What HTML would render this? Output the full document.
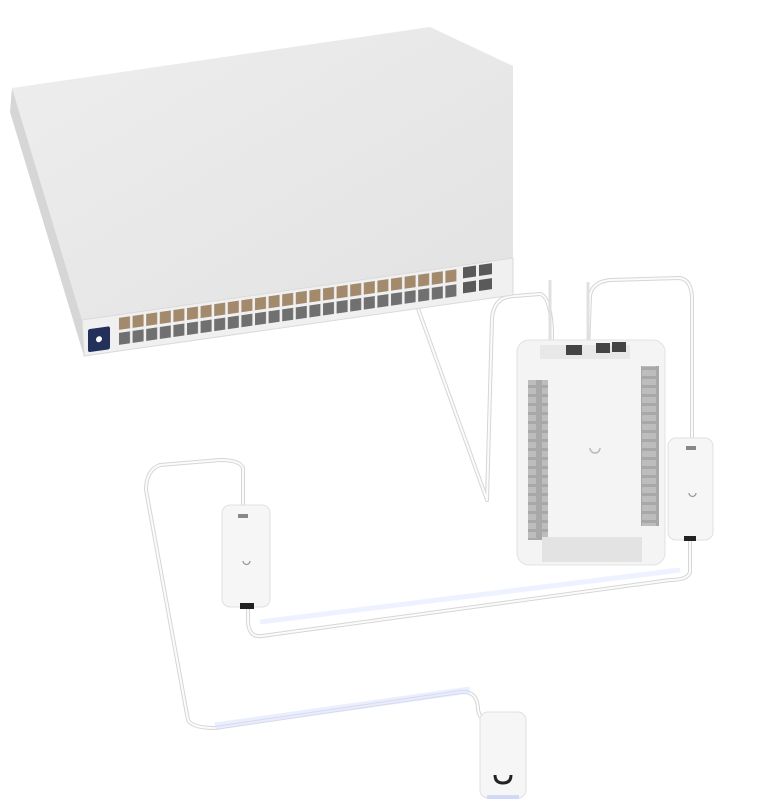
<!DOCTYPE html>
<html><head><style>body{margin:0;background:#fff}svg{display:block}</style></head><body>
<svg width="757" height="808" viewBox="0 0 757 808" xmlns="http://www.w3.org/2000/svg">
<defs>
<linearGradient id="top" x1="0" y1="0" x2="1" y2="1"><stop offset="0" stop-color="#eeeeee"/><stop offset="1" stop-color="#e2e2e2"/></linearGradient>
<pattern id="ports" x="118" y="333" width="13.6" height="34" patternUnits="userSpaceOnUse"><rect x="1" y="2" width="11" height="12" fill="#a48a6c"/><rect x="1" y="17" width="11" height="12" fill="#707070"/></pattern>
<pattern id="term" width="20" height="9" patternUnits="userSpaceOnUse"><rect width="20" height="9" fill="#a8a8a8"/><rect x="2" y="1" width="14" height="6" fill="#bdbdbd"/></pattern>
</defs>
<g fill="none" stroke-linecap="round" stroke-linejoin="round">
<g stroke="#d6d6d6" stroke-width="4">
<path d="M412 292 L487 500"/>
<path d="M487 500 L492 318 Q494 296 515 296 L540 294 Q550 296 552 330 L552 352"/>
<path d="M588 350 L590 296 Q592 282 610 280 L680 278 Q692 280 692 300 L692 440"/>
<path d="M690 540 L690 572 Q688 580 670 580 L262 636 Q248 638 248 620 L248 610"/>
<path d="M243 505 L243 468 Q240 460 220 460 L160 465 Q146 470 146 490 L188 720 Q192 728 215 728 L460 692 Q478 690 478 710 L480 716"/>
</g>
<g stroke="#fbfbfb" stroke-width="2">
<path d="M412 292 L487 500"/>
<path d="M487 500 L492 318 Q494 296 515 296 L540 294 Q550 296 552 330 L552 352"/>
<path d="M588 350 L590 296 Q592 282 610 280 L680 278 Q692 280 692 300 L692 440"/>
<path d="M690 540 L690 572 Q688 580 670 580 L262 636 Q248 638 248 620 L248 610"/>
<path d="M243 505 L243 468 Q240 460 220 460 L160 465 Q146 470 146 490 L188 720 Q192 728 215 728 L460 692 Q478 690 478 710 L480 716"/>
</g>
</g>
<path d="M260 622 L680 570" stroke="#dfe5ff" stroke-width="5" opacity=".5"/>
<path d="M215 726 L470 690" stroke="#d7dfff" stroke-width="7" opacity=".5"/>
<!-- switch -->
<polygon points="12,88 430,27 513,66 513,258 82,320" fill="url(#top)"/>
<polygon points="12,88 82,320 84,356 10,112" fill="#d6d6d6"/>
<polygon points="82,320 513,258 513,295 84,356" fill="#f0f0f0" stroke="#dadada"/>
<g transform="matrix(1,-0.144,0,1,0,0)">
<rect x="88" y="342" width="22" height="23" rx="2" fill="#23305a"/>
<circle cx="99" cy="353.5" r="3" fill="#fff"/>
<rect x="118" y="333" width="340" height="30" fill="url(#ports)"/>
<rect x="463" y="334" width="13" height="11" fill="#5a5a5a"/><rect x="479" y="334" width="13" height="11" fill="#5a5a5a"/>
<rect x="463" y="349" width="13" height="11" fill="#5a5a5a"/><rect x="479" y="349" width="13" height="11" fill="#5a5a5a"/>
</g>
<path d="M550 280 l0 70 M588 282 l0 68" stroke="#e0e0e0" stroke-width="3"/>
<!-- hub -->
<rect x="517" y="340" width="148" height="225" rx="12" fill="#f4f4f4" stroke="#e2e2e2"/>
<rect x="540" y="345" width="90" height="14" fill="#e8e8e8"/>
<rect x="566" y="345" width="16" height="10" fill="#444"/><rect x="596" y="343" width="14" height="10" fill="#444"/><rect x="612" y="342" width="14" height="10" fill="#444"/>
<rect x="528" y="380" width="20" height="160" fill="url(#term)"/>
<rect x="641" y="366" width="18" height="160" fill="url(#term)"/>
<rect x="542" y="537" width="100" height="25" fill="#e3e3e3"/>
<path d="M590 448 a5 5 0 0 0 10 0" stroke="#bbb" stroke-width="1.5" fill="none"/>
<!-- right adapter -->
<rect x="668" y="438" width="45" height="102" rx="8" fill="#f6f6f6" stroke="#e0e0e0"/>
<rect x="686" y="446" width="10" height="4" fill="#888"/>
<rect x="684" y="536" width="12" height="5" fill="#222"/>
<path d="M689 493 a3.5 3.5 0 0 0 7 0" stroke="#999" stroke-width="1.3" fill="none"/>
<!-- left adapter -->
<rect x="222" y="505" width="48" height="102" rx="8" fill="#f6f6f6" stroke="#e0e0e0"/>
<rect x="238" y="514" width="10" height="4" fill="#888"/>
<rect x="240" y="603" width="14" height="6" fill="#222"/>
<path d="M243 561 a3.5 3.5 0 0 0 7 0" stroke="#999" stroke-width="1.3" fill="none"/>
<!-- reader -->
<rect x="480" y="712" width="46" height="86" rx="8" fill="#f6f6f6" stroke="#e0e0e0"/>
<path d="M495 775 q0 8 8 8 q8 0 8 -8" stroke="#222" stroke-width="3" fill="none"/>
<rect x="487" y="795" width="32" height="4" fill="#c8d2ff" opacity=".8"/>
</svg>
</body></html>
